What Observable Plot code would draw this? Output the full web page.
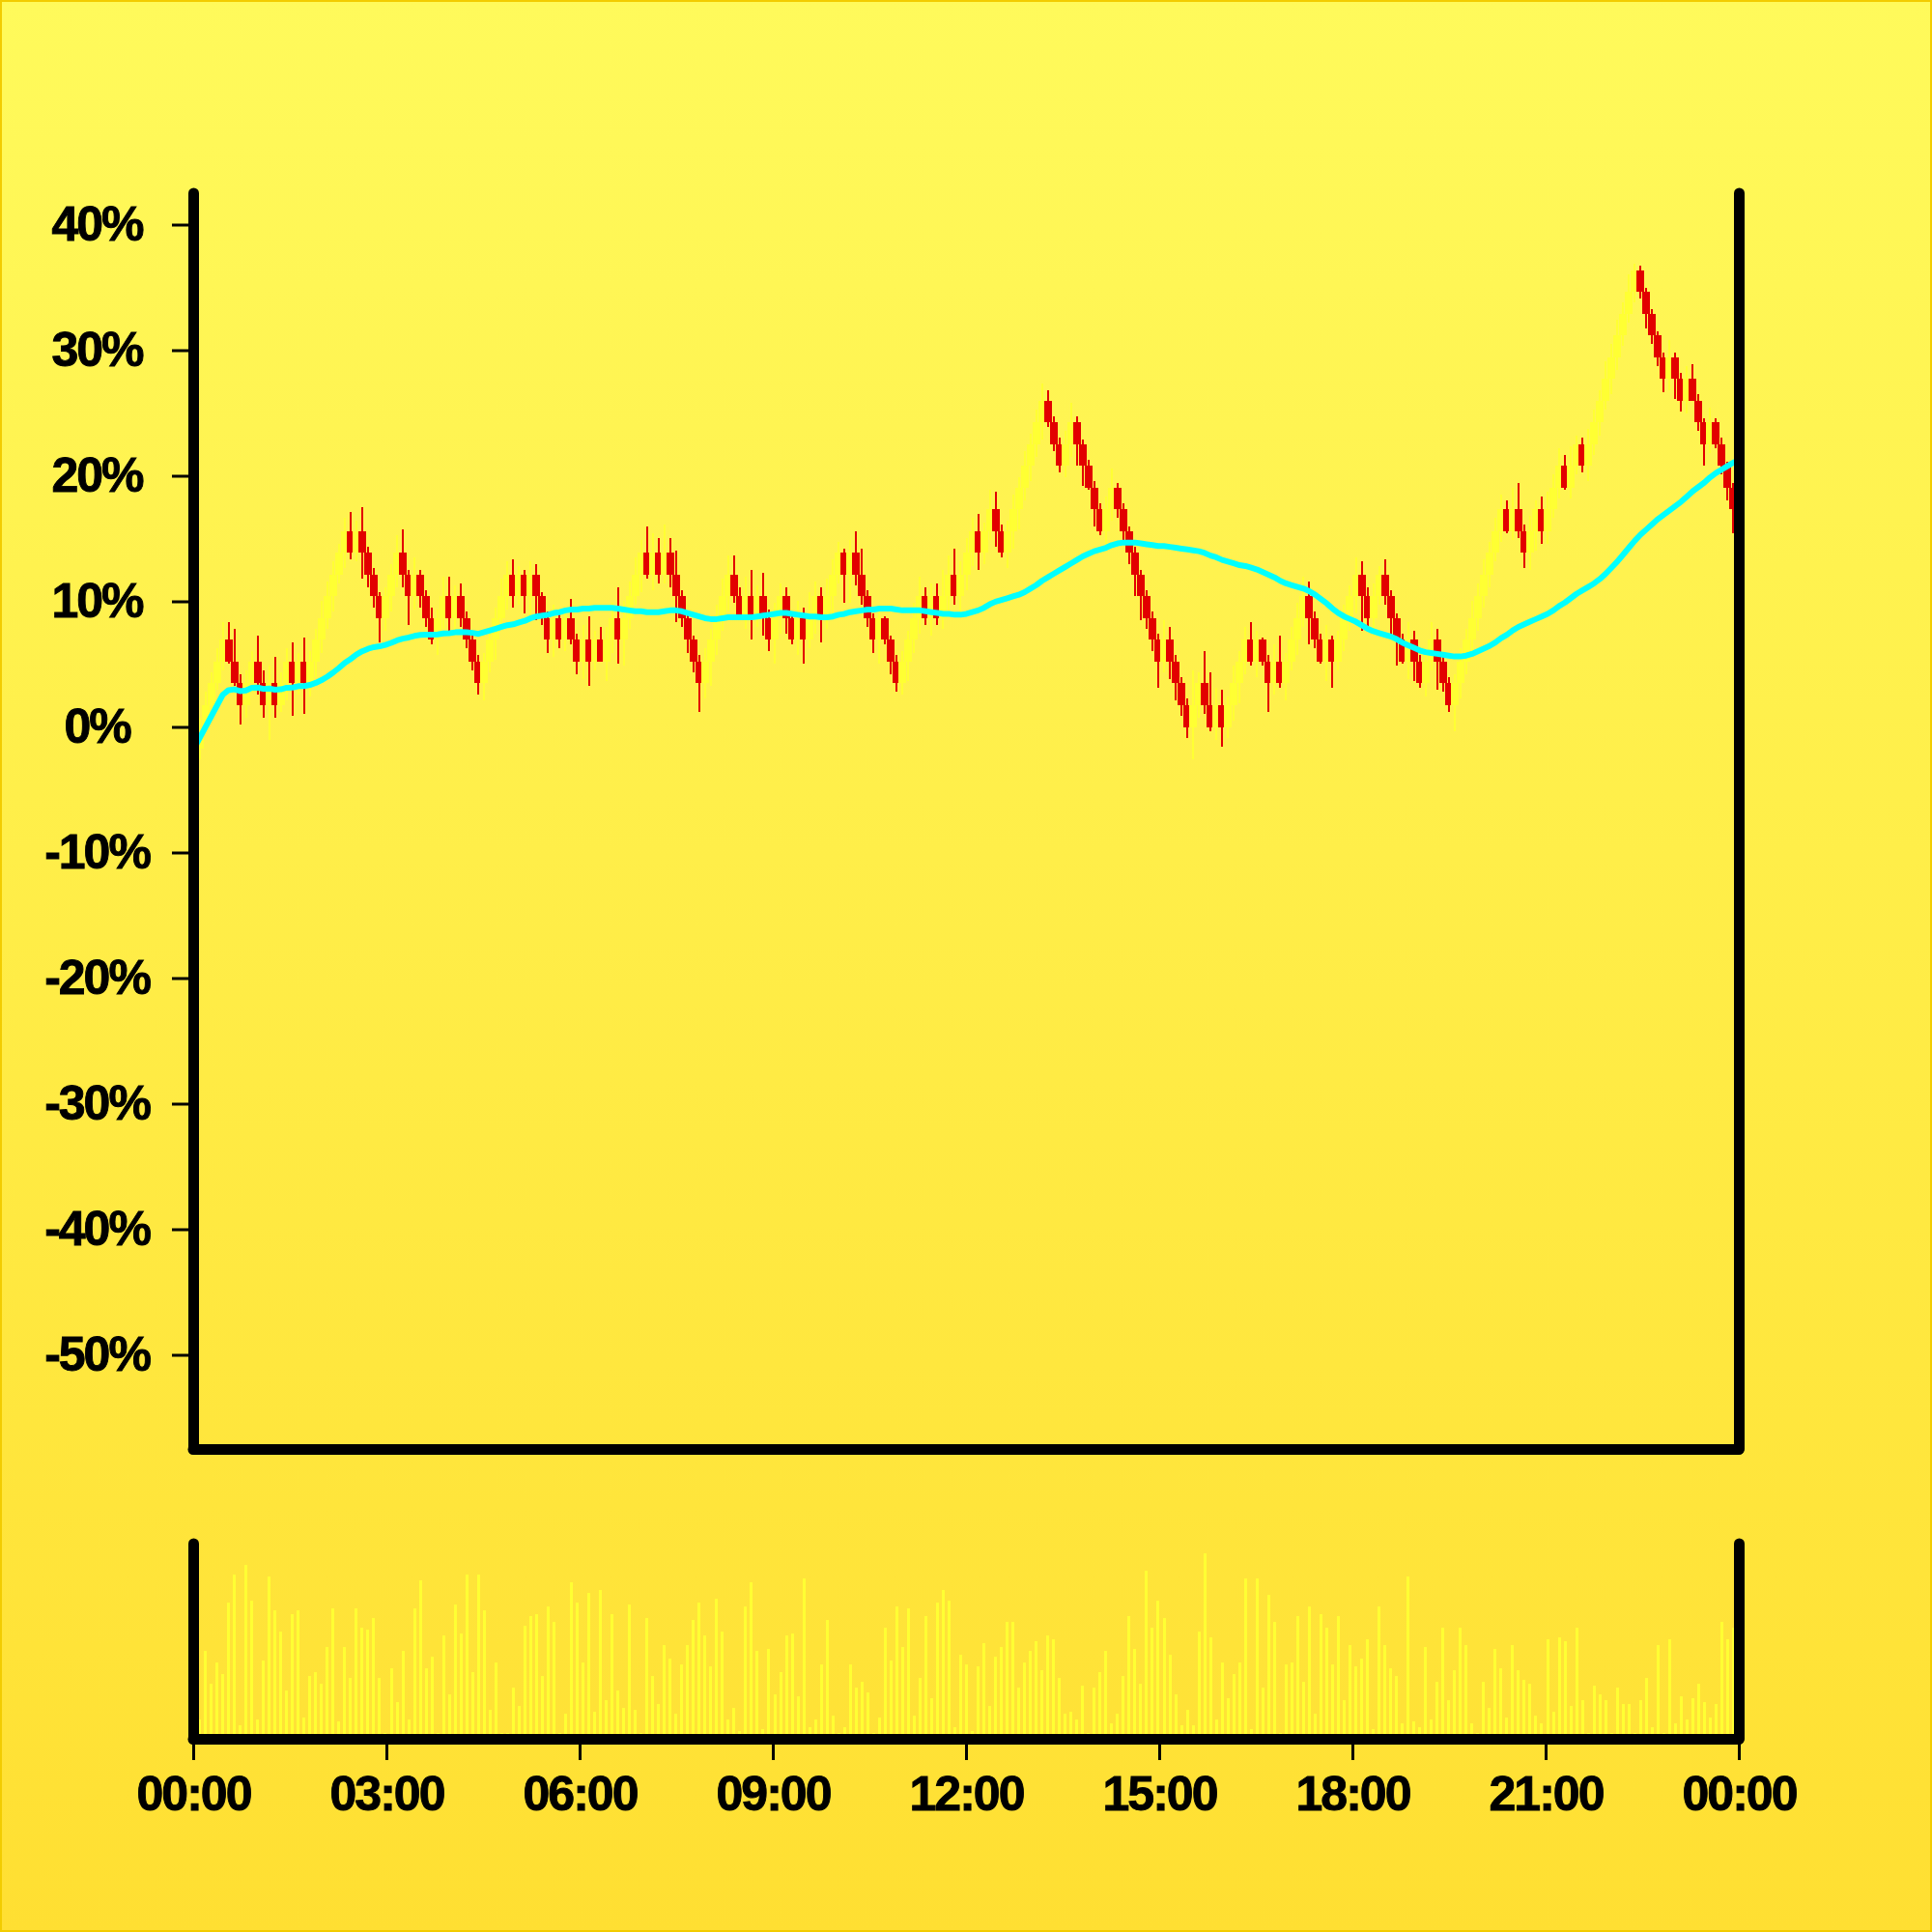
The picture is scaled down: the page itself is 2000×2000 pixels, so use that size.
<!DOCTYPE html>
<html>
<head>
<meta charset="utf-8">
<script src="https://cdn.jsdelivr.net/npm/d3@7"></script>
<script src="https://cdn.jsdelivr.net/npm/@observablehq/plot@0.6"></script>
<style>
  html, body { margin: 0; padding: 0; }
  #page {
    position: relative; width: 2000px; height: 2000px; overflow: hidden;
    background: linear-gradient(to bottom, #fffa5b, #ffdf32);
    box-shadow: inset 0 0 0 2px #f2cc00;
  }
  #page svg { position: absolute; left: 0; display: block; }
  #page svg text { stroke: black; stroke-width: 0.9px; paint-order: fill; }
</style>
</head>
<body>
<div id="page"></div>
<script>
// ---- price data, in price points relative to the first open ----
const basePrice = 57.74;
const openPts = [
  0,-1,0,1,2,3,4,3,2,1, 2,3,2,1,2,1,2,3,2,3, 2,3,4,5,6,7,8,9,8,9, 8,7,6,5,6,7,8,7,6,7,
  6,5,4,5,6,5,6,5,4,3, 2,3,4,5,6,7,6,7,6,7, 6,5,4,5,4,5,4,3,4,3, 4,3,4,5,4,5,6,7,8,7,
  8,7,8,7,6,5,4,3,2,3, 4,5,6,7,6,5,6,5,6,5, 4,5,6,5,4,5,4,5,6,5, 6,7,8,7,8,7,6,5,4,5,
  4,3,2,3,4,5,6,5,6,5, 6,7,6,7,8,9,8,9,10,9, 8,9,10,11,12,13,14,15,14,13, 12,13,14,13,12,11,10,9,10,11,
  10,9,8,7,6,5,4,3,4,3, 2,1,0,1,2,1,0,1,0,1, 2,3,4,3,4,3,2,3,2,3, 4,5,6,5,4,3,4,3,4,5,
  6,7,6,5,6,7,6,5,4,3, 4,3,2,3,4,3,2,1,2,3, 4,5,6,7,8,9,10,9,10,9, 8,9,10,9,10,11,12,11,12,13,
  12,13,14,15,16,17,18,19,20,21, 20,19,18,17,16,17,16,15,16,15, 14,13,14,13,12,11
];
const closePts = [
  -1,0,1,2,3,4,3,2,1,2, 3,2,1,2,1,2,3,2,3,2, 3,4,5,6,7,8,9,8,9,8, 7,6,5,6,7,8,7,6,7,6,
  5,4,5,6,5,6,5,4,3,2, 3,4,5,6,7,6,7,6,7,6, 5,4,5,4,5,4,3,4,3,4, 3,4,5,4,5,6,7,8,7,8,
  7,8,7,6,5,4,3,2,3,4, 5,6,7,6,5,6,5,6,5,4, 5,6,5,4,5,4,5,6,5,6, 7,8,7,8,7,6,5,4,5,4,
  3,2,3,4,5,6,5,6,5,6, 7,6,7,8,9,8,9,10,9,8, 9,10,11,12,13,14,15,14,13,12, 13,14,13,12,11,10,9,10,11,10,
  9,8,7,6,5,4,3,4,3,2, 1,0,1,2,1,0,1,0,1,2, 3,4,3,4,3,2,3,2,3,4, 5,6,5,4,3,4,3,4,5,6,
  7,6,5,6,7,6,5,4,3,4, 3,2,3,4,3,2,1,2,3,4, 5,6,7,8,9,10,9,10,9,8, 9,10,9,10,11,12,11,12,13,12,
  13,14,15,16,17,18,19,20,21,20, 19,18,17,16,17,16,15,16,15,14, 13,14,13,12,11,10
];
const highPts = [
  0.3,0.4,1.6,2.5,3.6,4.8,4.8,4.5,2.4,2.6, 3.5,4.2,2.6,2.8,3.2,2.5,3.6,3.9,3.4,4.1,
  3.5,4.5,5.8,6.7,7.6,8.4,9.6,9.9,9.5,10.1, 8.3,7.3,6.2,6.4,7.5,8.8,9.1,7.2,7.8,7.2,
  6.3,5.5,5.4,6.9,6.9,6.5,6.6,5.3,4.3,3.3, 3.4,4.6,5.5,6.8,7.6,7.7,7.4,7.2,7.6,7.5,
  6.2,5.3,5.6,5.3,5.3,5.9,4.3,4.7,5.1,4.4, 4.6,4.6,5.7,6.4,5.8,6.7,7.8,8.6,9.2,8.9,
  8.7,9.3,8.7,8.1,6.3,5.3,4.2,3.3,3.6,4.5, 5.6,6.8,7.9,7.9,6.4,6.9,7.2,6.5,7.1,5.4,
  5.7,6.6,6.4,5.2,5.8,5.5,6.2,6.7,6.4,6.8, 7.7,8.5,8.2,8.6,9.0,8.2,6.3,5.2,5.4,5.1,
  4.2,3.3,3.5,4.4,5.7,6.9,6.4,6.6,6.6,7.2, 7.9,8.2,7.6,8.7,9.6,9.8,9.4,10.9,10.8,9.3,
  9.5,10.7,11.5,12.7,13.5,14.6,15.8,15.5,14.3,13.3, 13.6,14.9,14.3,13.2,12.3,11.3,10.3,10.6,11.9,11.2,
  10.3,9.2,8.3,7.2,6.3,5.3,4.3,4.9,4.6,3.3, 2.3,1.3,2.6,2.5,3.5,2.5,1.8,1.7,1.4,2.8,
  3.5,4.6,4.8,4.4,4.1,3.3,3.8,4.2,3.4,4.6, 5.7,6.9,6.7,5.3,4.3,4.7,4.2,4.4,5.6,6.5,
  7.8,7.6,6.4,6.6,7.4,7.7,6.3,5.2,4.3,4.8, 4.4,3.3,3.5,4.8,4.5,3.3,2.3,2.4,3.6,4.5,
  5.8,6.6,7.7,8.5,9.6,10.7,10.4,11.0,11.2,9.3, 9.7,10.4,10.6,10.8,11.6,12.8,12.5,12.9,13.4,13.3,
  13.7,14.6,15.5,16.8,17.6,18.7,19.5,20.8,21.3,21.2, 20.2,19.2,18.2,17.2,17.8,17.2,16.3,16.6,16.7,15.3,
  14.2,14.7,14.2,13.3,12.2,11.2
];
const lowPts = [
  -1.4,-1.5,-0.2,0.6,1.7,2.6,2.9,1.9,0.1,0.4, 1.6,1.5,0.4,-0.6,0.4,0.7,1.2,0.5,1.5,0.6,
  1.4,2.3,3.4,4.5,5.3,6.6,7.3,7.7,7.6,6.8, 6.4,5.5,3.9,4.4,5.3,6.4,6.4,4.7,5.4,5.5,
  4.6,3.8,3.3,4.5,4.4,4.2,4.6,3.6,2.6,1.5, 1.2,2.5,3.1,4.6,5.4,5.5,5.6,5.2,5.1,4.9,
  4.7,3.4,3.2,3.6,3.5,3.8,2.4,2.2,1.9,2.6, 3.0,2.1,3.4,2.9,2.8,4.5,5.6,6.2,6.8,6.3,
  6.6,6.6,6.4,4.8,4.6,3.4,2.5,0.7,1.3,1.9, 3.3,4.4,5.3,5.7,4.9,4.5,4.0,4.6,4.2,3.5,
  2.9,4.3,4.3,3.8,3.3,2.9,3.6,4.3,3.9,4.5, 5.1,6.6,5.7,5.7,6.5,5.6,4.6,3.4,2.9,3.8,
  2.4,1.6,1.5,2.1,3.4,4.3,4.7,4.2,4.7,4.5, 5.2,5.6,5.1,6.3,7.4,7.2,7.5,8.6,8.3,7.8,
  7.3,8.2,9.1,10.4,11.3,12.4,13.2,13.8,12.7,11.7, 11.5,12.4,12.0,11.1,10.9,9.2,8.8,8.4,9.5,9.6,
  8.6,7.5,6.0,4.9,4.5,3.5,1.8,2.5,2.2,1.2, 0.5,-0.5,-1.5,0.4,0.6,-0.2,-0.6,-0.9,-0.5,0.3,
  1.1,2.4,2.8,2.3,2.8,0.7,1.5,1.8,1.2,2.6, 3.3,4.6,3.8,3.6,2.9,2.1,1.8,2.6,3.5,4.4,
  5.2,4.4,4.6,4.2,5.6,5.6,4.0,2.8,2.9,2.2, 2.1,1.8,1.4,2.6,1.7,1.6,0.7,-0.2,1.3,2.4,
  3.5,4.4,5.5,6.4,7.6,8.5,8.9,8.6,8.7,7.3, 7.2,8.1,8.4,8.4,9.6,10.5,10.9,10.5,11.6,11.7,
  11.3,12.5,13.4,14.6,15.3,16.4,17.5,18.6,19.5,19.7, 18.3,17.6,16.6,15.4,15.5,15.1,14.5,14.4,15.0,13.6,
  12.0,12.6,12.8,11.6,10.4,8.9
];
const volume = [
  20,10,45,28,39,33,70,84,7,89, 71,10,40,83,66,55,25,64,66,11, 32,34,28,47,67,9,47,31,67,57,
  56,62,31,3,36,19,45,10,67,81, 36,42,3,53,23,69,54,84,34,84, 66,15,39,3,3,26,17,58,63,64,
  32,68,60,3,13,80,70,39,75,14, 76,20,64,25,16,69,15,3,62,32, 18,48,41,13,38,48,61,70,53,37,
  72,55,10,16,4,68,80,45,5,46, 23,34,53,54,22,82,6,10,38,61, 12,3,6,38,26,29,24,3,11,57,
  40,68,47,67,12,31,63,21,70,76, 71,6,43,38,4,37,49,17,42,47, 60,60,26,39,45,50,35,53,51,31,
  13,14,10,27,3,26,34,45,8,13, 32,63,46,28,86,57,71,62,43,23, 7,15,7,55,95,52,10,39,21,33,
  39,82,5,82,26,74,60,3,38,39, 63,29,68,13,64,57,38,63,20,48, 37,41,51,5,68,48,36,32,8,83,
  9,6,47,10,29,57,20,35,57,48, 8,3,29,16,46,36,11,48,35,30, 28,12,8,51,14,52,50,17,57,20,
  3,27,23,20,3,26,18,18,3,20, 31,6,48,3,51,8,22,10,21,28, 19,11,18,60,51,57
];
const yTicks = [-50, -40, -30, -20, -10, 0, 10, 20, 30, 40];
const xTickHours = [0, 3, 6, 9, 12, 15, 18, 21, 24];

// ---- build the table ----
const day0 = Date.UTC(2024, 0, 1);
const N = closePts.length;
const stepMs = 864e5 / N;
const toPct = p => p / basePrice * 100;
const rows = closePts.map((c, i) => ({
  time: new Date(day0 + i * stepMs),
  open: toPct(openPts[i]),
  high: toPct(highPts[i]),
  low: toPct(lowPts[i]),
  close: toPct(c),
  volume: volume[i]
}));
const xDomain = [new Date(day0), new Date(day0 + 864e5)];
const yDomain = [-57.5, 42.5];
const xTicks = xTickHours.map(h => new Date(day0 + h * 36e5));

const RED = "#e20000", YEL = "#ffff33", CYAN = "#00ffff";
const candleColor = d => d.close < d.open ? RED : YEL;
const frame = {stroke: "black", strokeWidth: 11, strokeLinecap: "round"};
const style = {
  background: "transparent",
  fontFamily: "'Liberation Sans', Arial, Helvetica, sans-serif",
  fontWeight: "bold",
  letterSpacing: "-2px",
  color: "black",
  overflow: "visible"
};

const main = Plot.plot({
  width: 2000, height: 1540,
  marginTop: 200, marginRight: 200, marginBottom: 40, marginLeft: 200,
  style,
  x: {type: "utc", domain: xDomain, axis: null},
  y: {domain: yDomain, axis: null},
  color: {type: "identity"},
  marks: [
    Plot.ruleX(rows, {x: "time", y1: "low", y2: "high", stroke: candleColor, strokeWidth: 2, shapeRendering: "crispEdges"}),
    Plot.ruleX(rows, {x: "time", y1: "open", y2: "close", stroke: candleColor, strokeWidth: 8, shapeRendering: "crispEdges"}),
    Plot.lineY(rows, Plot.windowY({k: 50, anchor: "end", reduce: "mean"}, {x: "time", y: "close", stroke: CYAN, strokeWidth: 6})),
    Plot.axisY(yTicks, {anchor: "left", tickSize: 22, tickPadding: 78, textAnchor: "middle",
      tickFormat: d => `${d}%`, strokeWidth: 3, fontSize: 50, fontWeight: "bold"}),
    Plot.ruleX(xDomain, frame),
    Plot.ruleY([yDomain[0]], frame)
  ]
});

const vol = Plot.plot({
  width: 2000, height: 460,
  marginTop: 58, marginRight: 200, marginBottom: 200, marginLeft: 200,
  style,
  x: {type: "utc", domain: xDomain, axis: null},
  y: {domain: [0, 100], axis: null},
  marks: [
    Plot.ruleX(rows, {x: "time", y1: 0, y2: "volume", stroke: YEL, strokeWidth: 3, shapeRendering: "crispEdges"}),
    Plot.axisX(xTicks, {anchor: "bottom", tickSize: 22, tickPadding: 16,
      tickFormat: d3.utcFormat("%H:%M"), strokeWidth: 3, fontSize: 50, fontWeight: "bold"}),
    Plot.ruleX(xDomain, frame),
    Plot.ruleY([0], frame)
  ]
});

const page = document.getElementById("page");
main.style.top = "0px";
vol.style.top = "1540px";
page.appendChild(main);
page.appendChild(vol);
</script>
</body>
</html>
